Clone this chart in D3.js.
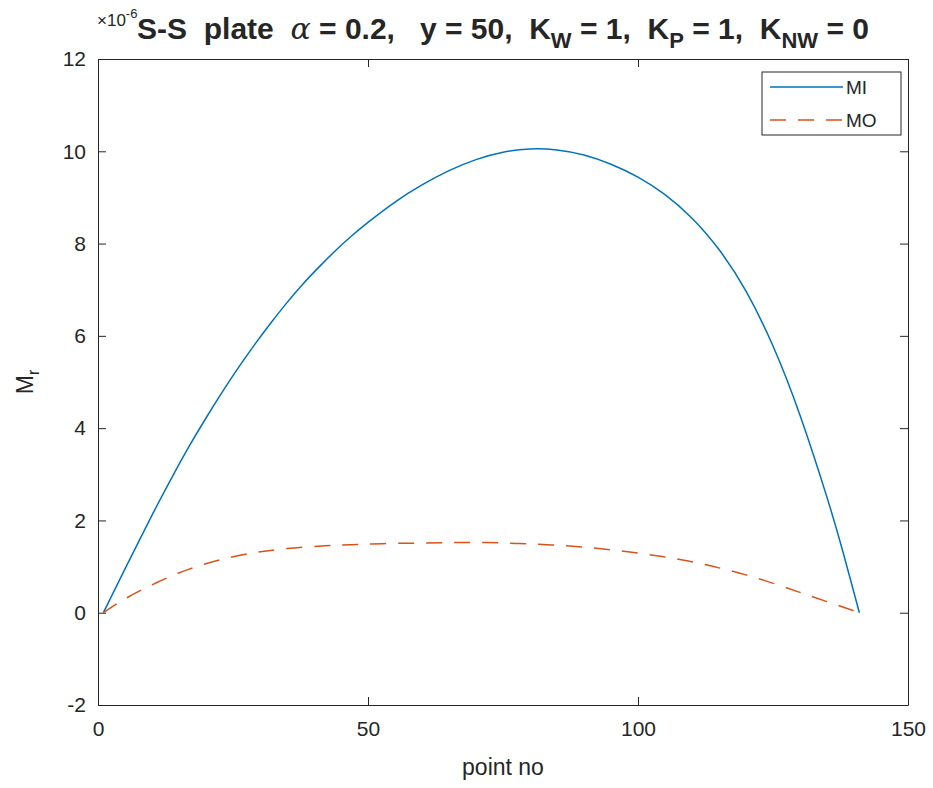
<!DOCTYPE html>
<html>
<head>
<meta charset="utf-8">
<script src="https://d3js.org/d3.v7.min.js"></script>
<style>
body { margin: 0; background: #fff; }
text { font-family: "Liberation Sans", Arial, Helvetica, sans-serif; fill: #262626; }
</style>
</head>
<body>
<svg width="933" height="788"></svg>
<script>
// values, in units of 1e-6
var miPoint = [1, 5, 8, 11, 14, 17, 20, 23, 26, 29, 32, 35, 38, 41, 44, 47, 50, 55, 60, 65, 70, 75, 80, 85, 90, 95, 100, 105, 110, 115, 120, 125, 130, 135, 138, 141];
var miValue = [0, 0.95, 1.65, 2.34, 3.0, 3.63, 4.22, 4.78, 5.31, 5.81, 6.28, 6.72, 7.13, 7.5, 7.85, 8.17, 8.46, 8.9, 9.27, 9.58, 9.82, 9.98, 10.05, 10.03, 9.92, 9.72, 9.44, 9.06, 8.55, 7.87, 6.97, 5.78, 4.28, 2.5, 1.3, 0];
var moPoint = [1, 5, 11, 17, 23, 29, 35, 42, 48, 54, 60, 66, 72, 78, 84, 90, 96, 102, 108, 114, 120, 126, 131, 136, 141];
var moValue = [0, 0.3, 0.66, 0.95, 1.16, 1.3, 1.39, 1.45, 1.48, 1.5, 1.51, 1.52, 1.52, 1.5, 1.47, 1.42, 1.35, 1.26, 1.15, 1.0, 0.82, 0.6, 0.4, 0.2, 0];
var xTicks = [0, 50, 100, 150];
var yTicks = [-2, 0, 2, 4, 6, 8, 10, 12];
var seriesNames = ["MI", "MO"];
var seriesColors = ["#0072BD", "#D95319"];

var svg = d3.select("svg"),
    margin = {top: 59, right: 25, bottom: 83, left: 98},
    width = +svg.attr("width") - margin.left - margin.right,
    height = +svg.attr("height") - margin.top - margin.bottom;

var g = svg.append("g").attr("transform", "translate(" + margin.left + "," + margin.top + ")");

var x = d3.scaleLinear().domain([0, 150]).range([0, width]);
var y = d3.scaleLinear().domain([-2, 12]).range([height, 0]);

// axes, matlab style: ticks inside, box all round
g.append("g")
    .attr("transform", "translate(0," + height + ")")
    .call(d3.axisBottom(x).tickValues(xTicks).tickSize(-8).tickSizeOuter(0).tickPadding(16))
    .attr("class", "axis");
g.append("g")
    .call(d3.axisTop(x).tickValues(xTicks).tickSize(-8).tickSizeOuter(0).tickFormat(""))
    .attr("class", "axis");
g.append("g")
    .call(d3.axisLeft(y).tickValues(yTicks).tickSize(-8).tickSizeOuter(0).tickPadding(12)
      .tickFormat(function(d) { return String(d); }))
    .attr("class", "axis");
g.append("g")
    .attr("transform", "translate(" + width + ",0)")
    .call(d3.axisRight(y).tickValues(yTicks).tickSize(-8).tickSizeOuter(0).tickFormat(""))
    .attr("class", "axis");

g.selectAll(".axis path, .axis line").attr("stroke", "#262626").attr("stroke-width", 1);
g.selectAll(".axis text").attr("font-size", 21).attr("fill", "#262626")
    .attr("font-family", "Liberation Sans, Arial, sans-serif");

var line = d3.line()
    .x(function(d) { return x(d[0]); })
    .y(function(d) { return y(d[1]); })
    .curve(d3.curveNatural);

g.append("path")
    .datum(d3.zip(miPoint, miValue))
    .attr("fill", "none")
    .attr("stroke", seriesColors[0])
    .attr("stroke-width", 1.5)
    .attr("d", line);

g.append("path")
    .datum(d3.zip(moPoint, moValue))
    .attr("fill", "none")
    .attr("stroke", seriesColors[1])
    .attr("stroke-width", 1.5)
    .attr("stroke-dasharray", "16,12")
    .attr("d", line);

// legend
var lg = g.append("g").attr("transform", "translate(" + (width - 146) + ",13)");
lg.append("rect")
    .attr("width", 139).attr("height", 63)
    .attr("fill", "#fff").attr("stroke", "#262626").attr("stroke-width", 1);
seriesNames.forEach(function(name, i) {
  lg.append("line")
    .attr("x1", 8).attr("x2", 81)
    .attr("y1", 15 + i * 33).attr("y2", 15 + i * 33)
    .attr("stroke", seriesColors[i])
    .attr("stroke-width", 1.5)
    .attr("stroke-dasharray", i == 1 ? "16,12" : null);
  lg.append("text")
    .attr("x", 84).attr("y", 15 + i * 33 + 7)
    .attr("font-size", 19)
    .text(name);
});

// exponent
var ex = svg.append("text").attr("x", margin.left - 1).attr("y", 26).attr("font-size", 17).attr("fill", "#404040");
ex.append("tspan").text("\u00d710");
ex.append("tspan").attr("dy", -8).attr("font-size", 13).text("-6");

// axis labels
svg.append("text")
    .attr("x", margin.left + width / 2).attr("y", 775)
    .attr("text-anchor", "middle")
    .attr("font-size", 23)
    .text("point no");

var yl = svg.append("text")
    .attr("transform", "translate(33," + (margin.top + height / 2) + ") rotate(-90)")
    .attr("text-anchor", "middle")
    .attr("font-size", 23);
yl.append("tspan").text("M");
yl.append("tspan").attr("dy", 6).attr("font-size", 16).text("r");

// title
var t = svg.append("text")
    .attr("x", margin.left + width / 2).attr("y", 39)
    .attr("text-anchor", "middle")
    .attr("font-size", 30)
    .attr("font-weight", "bold")
    .style("white-space", "pre");
t.append("tspan").text("S-S  plate  ");
t.append("tspan").attr("font-style", "italic").attr("font-weight", "normal")
    .attr("font-family", "DejaVu Serif, serif").text("\u03b1");
t.append("tspan").text(" = 0.2,   y = 50,  K");
t.append("tspan").attr("dy", 9).attr("font-size", 22).text("W");
t.append("tspan").attr("dy", -9).text(" = 1,  K");
t.append("tspan").attr("dy", 9).attr("font-size", 22).text("P");
t.append("tspan").attr("dy", -9).text(" = 1,  K");
t.append("tspan").attr("dy", 9).attr("font-size", 22).text("NW");
t.append("tspan").attr("dy", -9).text(" = 0");
</script>
</body>
</html>
